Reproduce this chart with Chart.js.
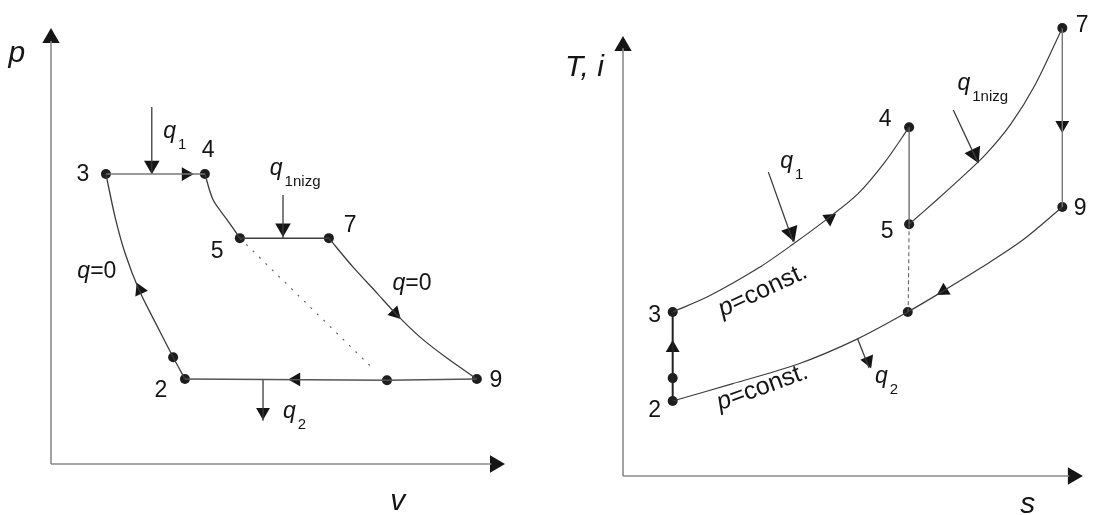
<!DOCTYPE html>
<html>
<head>
<meta charset="utf-8">
<script src="https://cdn.jsdelivr.net/npm/chart.js@4/dist/chart.umd.min.js"></script>
<style>
  html, body { margin: 0; padding: 0; background: #fff; }
  #wrap { position: relative; width: 1093px; height: 515px; overflow: hidden; }
  canvas { position: absolute; top: 0; }
  #pv { left: 0; }
  #ts { left: 546px; }
</style>
</head>
<body>
<div id="wrap">
  <canvas id="pv" width="546" height="515"></canvas>
  <canvas id="ts" width="547" height="515"></canvas>
</div>
<script>
// all values in % of the axis length (origin = 0, arrow tip = 100)

// ---- p-v diagram ----
const pvStates = [
  {x: 12.1, y: 66.5}, // 3
  {x: 33.9, y: 66.5}, // 4
  {x: 41.6, y: 51.8}, // 5
  {x: 61.2, y: 51.8}, // 7
  {x: 93.8, y: 19.5}, // 9
  {x: 74.0, y: 19.2}, // end of dotted line
  {x: 29.5, y: 19.5}, // 2
  {x: 26.9, y: 24.5},
];
const pvCompression = [
  {x: 29.5, y: 19.5}, {x: 26.9, y: 24.5}, {x: 22.9, y: 32.6}, {x: 19.4, y: 39.9},
  {x: 16.3, y: 48.4}, {x: 14.1, y: 56.7}, {x: 12.1, y: 66.5},
];
const pvHeat34 = [{x: 12.1, y: 66.5}, {x: 33.9, y: 66.5}];
const pvExpansion45 = [{x: 33.9, y: 66.5}, {x: 35.7, y: 60.6}, {x: 38.8, y: 56.0}, {x: 41.6, y: 51.8}];
const pvHeat57 = [{x: 41.6, y: 51.8}, {x: 61.2, y: 51.8}];
const pvExpansion79 = [
  {x: 61.2, y: 51.8}, {x: 66.5, y: 45.2}, {x: 71.8, y: 39.2}, {x: 76.2, y: 34.2},
  {x: 81.3, y: 29.1}, {x: 87.2, y: 24.3}, {x: 93.8, y: 19.5},
];
const pvCooling92 = [{x: 93.8, y: 19.5}, {x: 74.0, y: 19.2}, {x: 29.5, y: 19.5}];
const pvDotted = [{x: 41.6, y: 51.8}, {x: 71.0, y: 21.8}];
const pvQ1 = [{x: 22.2, y: 81.9}, {x: 22.2, y: 66.5}];
const pvQ1nizg = [{x: 51.1, y: 61.7}, {x: 51.1, y: 51.8}];
const pvQ2 = [{x: 46.7, y: 19.5}, {x: 46.7, y: 9.9}];
const pvHeads = [
  {x: 29.7, y: 66.5}, {x: 22.2, y: 68.5}, {x: 51.1, y: 54.1}, {x: 54.0, y: 19.4},
  {x: 46.7, y: 11.9}, {x: 19.6, y: 39.9}, {x: 75.8, y: 34.6},
];
const pvHeadAngles = [90, 180, 180, 270, 180, -24, 136];
const pvHeadSizes = [8, 9, 9, 8, 8, 8, 8];

// ---- T-s diagram ----
const tsStates = [
  {x: 10.8, y: 37.2}, // 3
  {x: 10.8, y: 17.0}, // 2
  {x: 10.8, y: 22.2},
  {x: 62.2, y: 79.1}, // 4
  {x: 62.2, y: 57.1}, // 5
  {x: 61.9, y: 37.2},
  {x: 95.5, y: 101.6}, // 7
  {x: 95.5, y: 61.0}, // 9
];
const tsCompression = [{x: 10.8, y: 17.0}, {x: 10.8, y: 37.2}];
const tsHeat34 = [
  {x: 10.8, y: 37.2}, {x: 18.7, y: 40.8}, {x: 29.5, y: 47.2}, {x: 37.0, y: 52.6},
  {x: 44.9, y: 58.7}, {x: 51.0, y: 63.9}, {x: 56.8, y: 71.0}, {x: 62.2, y: 79.1},
];
const tsExpansion45 = [{x: 62.2, y: 79.1}, {x: 62.2, y: 57.1}];
const tsHeat57 = [
  {x: 62.2, y: 57.1}, {x: 68.2, y: 62.6}, {x: 73.5, y: 67.6}, {x: 78.9, y: 73.0},
  {x: 84.3, y: 79.8}, {x: 89.7, y: 88.9}, {x: 95.5, y: 101.6},
];
const tsExpansion79 = [{x: 95.5, y: 101.6}, {x: 95.5, y: 61.0}];
const tsCooling92 = [
  {x: 10.8, y: 17.0}, {x: 23.7, y: 20.9}, {x: 38.1, y: 25.4}, {x: 51.0, y: 31.1},
  {x: 61.9, y: 37.2}, {x: 69.7, y: 42.0}, {x: 77.8, y: 47.2}, {x: 86.9, y: 53.5},
  {x: 95.5, y: 61.0},
];
const tsDashed = [{x: 62.2, y: 57.1}, {x: 62.0, y: 37.2}];
const tsQ1 = [{x: 31.6, y: 68.9}, {x: 37.0, y: 53.1}];
const tsQ1nizg = [{x: 71.8, y: 83.0}, {x: 77.2, y: 71.0}];
const tsQ2 = [{x: 51.0, y: 31.1}, {x: 53.5, y: 24.5}];
const tsHeads = [
  {x: 95.5, y: 79.6}, {x: 10.8, y: 29.0}, {x: 44.9, y: 58.4}, {x: 69.7, y: 42.0},
  {x: 36.5, y: 55.2}, {x: 76.4, y: 73.0}, {x: 53.3, y: 26.1},
];
const tsHeadAngles = [180, 0, 55, 238, 160, 155, 158];
const tsHeadSizes = [8, 8, 8, 8, 10, 10, 8];

const axisX = [{x: 0, y: 0}, {x: 97, y: 0}];
const axisY = [{x: 0, y: 0}, {x: 0, y: 97}];

const pvLabels = [
  {parts: [{t: 'p', i: 1}], x: -7.5, y: 92.2, size: 30},
  {parts: [{t: 'v', i: 1}], x: 76.4, y: -10.6, size: 30},
  {parts: [{t: '3'}], x: 7.0, y: 64.9},
  {parts: [{t: '4'}], x: 34.6, y: 70.4},
  {parts: [{t: '5'}], x: 36.6, y: 47.2},
  {parts: [{t: '7'}], x: 65.9, y: 53.2},
  {parts: [{t: '9'}], x: 98.0, y: 17.7},
  {parts: [{t: '2'}], x: 24.2, y: 15.4},
  {parts: [{t: 'q', i: 1}, {t: '1', s: 1}], x: 24.7, y: 74.8, left: true},
  {parts: [{t: 'q', i: 1}, {t: '1nizg', s: 1}], x: 48.2, y: 66.3, left: true},
  {parts: [{t: 'q', i: 1}, {t: '=0'}], x: 10.1, y: 42.7},
  {parts: [{t: 'q', i: 1}, {t: '=0'}], x: 79.5, y: 39.9},
  {parts: [{t: 'q', i: 1}, {t: '2', s: 1}], x: 51.1, y: 10.6, left: true},
];
const tsLabels = [
  {parts: [{t: 'T, i', i: 1}], x: -8.4, y: 90.7, size: 30},
  {parts: [{t: 's', i: 1}], x: 88.0, y: -8.4, size: 30},
  {parts: [{t: '7'}], x: 99.8, y: 100.7},
  {parts: [{t: '9'}], x: 99.4, y: 59.2},
  {parts: [{t: '4'}], x: 57.0, y: 79.4},
  {parts: [{t: '5'}], x: 57.4, y: 54.0},
  {parts: [{t: '3'}], x: 6.9, y: 34.9},
  {parts: [{t: '2'}], x: 6.9, y: 13.4},
  {parts: [{t: 'q', i: 1}, {t: '1', s: 1}], x: 34.2, y: 69.8, left: true},
  {parts: [{t: 'q', i: 1}, {t: '1nizg', s: 1}], x: 72.7, y: 87.5, left: true},
  {parts: [{t: 'q', i: 1}, {t: '2', s: 1}], x: 54.8, y: 21.1, left: true},
  {parts: [{t: 'p', i: 1}, {t: '=const.'}], x: 31.0, y: 40.6, rot: -25, size: 25},
  {parts: [{t: 'p', i: 1}, {t: '=const.'}], x: 30.8, y: 18.6, rot: -20, size: 25},
];

const FONT = '"Liberation Sans", Arial, sans-serif';

function fontFor(part, size) {
  const s = part.s ? Math.round(size * 0.66) : size;
  return (part.i ? 'italic ' : '') + s + 'px ' + FONT;
}

const labelPlugin = {
  id: 'diagramLabels',
  afterDatasetsDraw(chart, args, opts) {
    const ctx = chart.ctx;
    const xs = chart.scales.x, ys = chart.scales.y;
    ctx.save();
    ctx.fillStyle = '#151515';
    ctx.textBaseline = 'alphabetic';
    ctx.textAlign = 'left';
    opts.items.forEach(item => {
      const size = item.size || 23;
      const widths = item.parts.map(p => {
        ctx.font = fontFor(p, size);
        return ctx.measureText(p.t).width + (p.s ? 2 : 0);
      });
      const total = widths.reduce((a, b) => a + b, 0);
      ctx.save();
      ctx.translate(xs.getPixelForValue(item.x), ys.getPixelForValue(item.y));
      if (item.rot) ctx.rotate(item.rot * Math.PI / 180);
      let cx = item.left ? 0 : -total / 2;
      item.parts.forEach((p, k) => {
        ctx.font = fontFor(p, size);
        ctx.fillText(p.t, cx + (p.s ? 2 : 0), p.s ? 11 : 0);
        cx += widths[k];
      });
      ctx.restore();
    });
    ctx.restore();
  },
};

function line(data, color, width, extra) {
  return Object.assign({
    data: data,
    showLine: true,
    pointRadius: 0,
    borderColor: color,
    borderWidth: width,
    tension: 0.3,
    fill: false,
    clip: false,
  }, extra || {});
}

function dots(data) {
  return {
    data: data,
    showLine: false,
    pointRadius: 5,
    pointBackgroundColor: '#1e1e1e',
    pointBorderWidth: 0,
    clip: false,
  };
}

function heads(data, angles, r) {
  return {
    data: data,
    showLine: false,
    pointStyle: 'triangle',
    pointRotation: angles,
    pointRadius: r,
    pointBackgroundColor: '#151515',
    pointBorderColor: '#151515',
    pointBorderWidth: 0,
    clip: false,
  };
}

function makeChart(id, datasets, labels, pad, yMax) {
  return new Chart(document.getElementById(id), {
    type: 'scatter',
    data: { datasets: datasets },
    options: {
      responsive: false,
      animation: false,
      events: [],
      layout: { padding: pad },
      plugins: {
        legend: { display: false },
        tooltip: { enabled: false },
        diagramLabels: { items: labels },
      },
      scales: {
        x: { display: false, min: 0, max: 100 },
        y: { display: false, min: 0, max: yMax },
      },
    },
    plugins: [labelPlugin],
  });
}

const AXIS = '#8a8a8a';
const CYCLE = '#3c3c3c';

makeChart('pv', [
  line(axisX, AXIS, 1.6, {tension: 0}),
  line(axisY, AXIS, 1.6, {tension: 0}),
  heads([{x: 97.8, y: 0}, {x: 0, y: 97.7}], [90, 0], 10),
  line(pvCompression, CYCLE, 1.3),
  line(pvHeat34, '#777', 1.5, {tension: 0}),
  line(pvExpansion45, CYCLE, 1.3),
  line(pvHeat57, CYCLE, 1.5, {tension: 0}),
  line(pvExpansion79, CYCLE, 1.3),
  line(pvCooling92, '#555', 1.5, {tension: 0}),
  line(pvDotted, '#666', 1.2, {tension: 0, borderDash: [2, 7]}),
  line(pvQ1, CYCLE, 1.3, {tension: 0}),
  line(pvQ1nizg, CYCLE, 1.3, {tension: 0}),
  line(pvQ2, CYCLE, 1.3, {tension: 0}),
  heads(pvHeads, pvHeadAngles, pvHeadSizes),
  dots(pvStates),
], pvLabels, {left: 51, right: 41, top: 28, bottom: 51}, 100);

// y range runs a little past the arrow so that state 7 (above the tip) is drawn
makeChart('ts', [
  line(axisX, AXIS, 1.6, {tension: 0}),
  line(axisY, AXIS, 1.6, {tension: 0}),
  heads([{x: 97.8, y: 0}, {x: 0, y: 97.5}], [90, 0], 10),
  line(tsCompression, '#222', 2, {tension: 0}),
  line(tsHeat34, CYCLE, 1.2),
  line(tsExpansion45, '#666', 1.3, {tension: 0}),
  line(tsHeat57, CYCLE, 1.2),
  line(tsExpansion79, '#777', 1.4, {tension: 0}),
  line(tsCooling92, CYCLE, 1.2),
  line(tsDashed, '#666', 1.1, {tension: 0, borderDash: [4, 3]}),
  line(tsQ1, CYCLE, 1.3, {tension: 0}),
  line(tsQ1nizg, CYCLE, 1.3, {tension: 0}),
  line(tsQ2, CYCLE, 1.3, {tension: 0}),
  heads(tsHeads, tsHeadAngles, tsHeadSizes),
  dots(tsStates),
], tsLabels, {left: 77, right: 5, top: 20, bottom: 39}, 103.4);
</script>
</body>
</html>
